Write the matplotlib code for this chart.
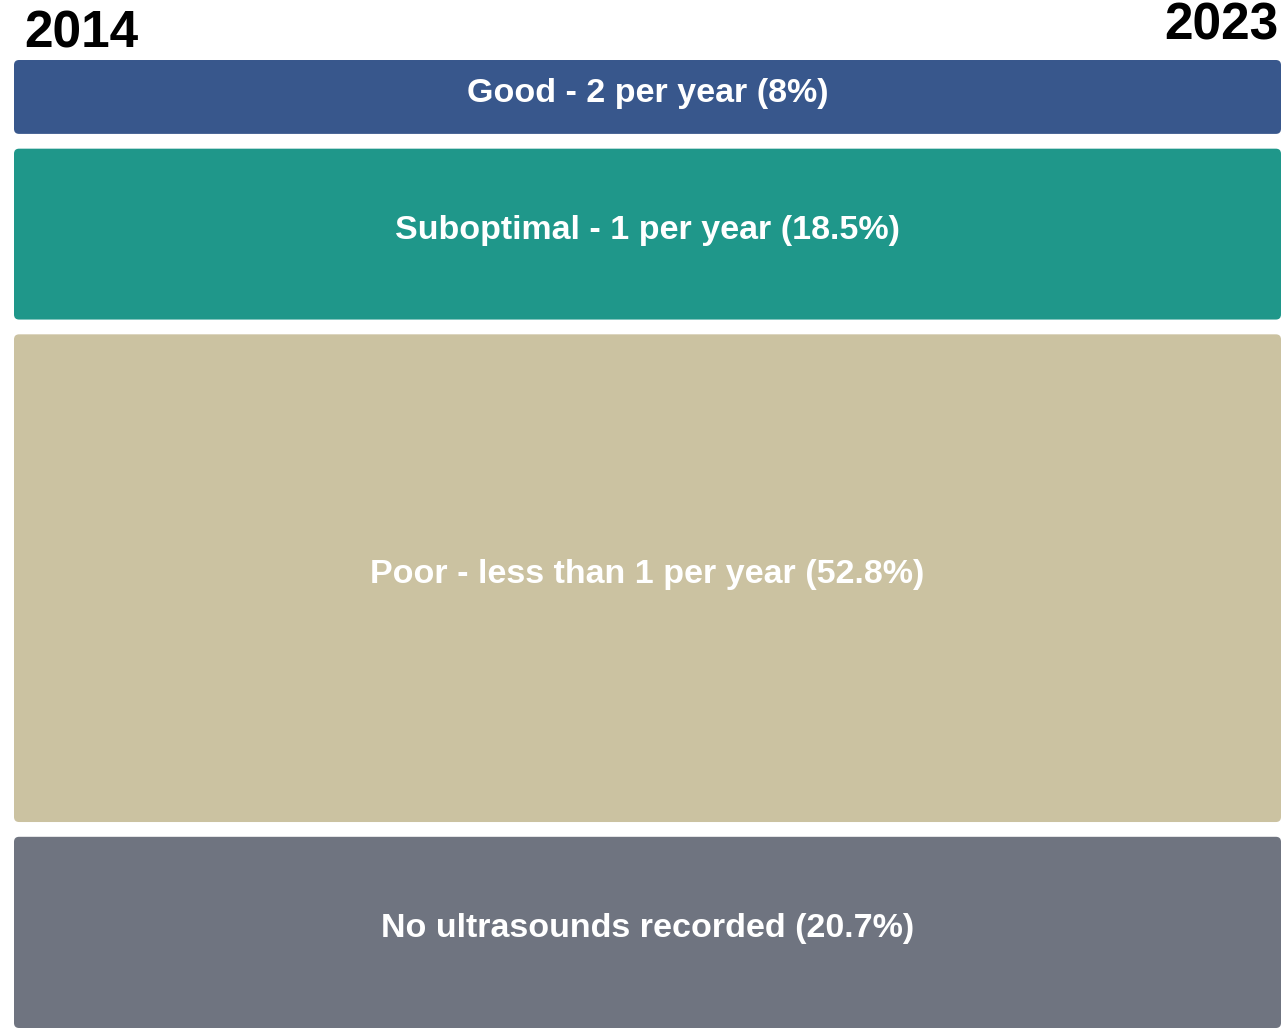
import matplotlib
matplotlib.use("Agg")
import matplotlib.pyplot as plt
from matplotlib.patches import FancyBboxPatch

plt.rcParams['font.family'] = ['Liberation Sans', 'DejaVu Sans']

categories = ["Good - 2 per year", "Suboptimal - 1 per year",
              "Poor - less than 1 per year", "No ultrasounds recorded"]
shares = [8.0, 18.5, 52.8, 20.7]
colors = ["#38578C", "#1F978A", "#CBC2A1", "#6F7480"]
start_year, end_year = "2014", "2023"

W, H = 1281, 1030
fig = plt.figure(figsize=(W / 100, H / 100), dpi=100)
ax = fig.add_axes([14 / W, 2 / H, 1 - 14 / W, (1028 - 60) / H])
gap = 1.6
total = sum(shares) + gap * (len(shares) - 1)
ax.set_xlim(0, 1)
ax.set_ylim(0, total)
ax.axis("off")

top = total
for cat, val, col in zip(categories, shares, colors):
    y0 = top - val
    patch = FancyBboxPatch((0, y0), 1, val,
                           boxstyle="round,pad=0,rounding_size=0.004",
                           mutation_aspect=total * (1267 / 968),
                           facecolor=col, edgecolor="none")
    ax.add_patch(patch)
    label = f"{cat} ({val:g}%)"
    ax.annotate(label, (0.5, y0 + val / 2), xytext=(0, 2.5),
                textcoords="offset points", ha="center", va="center",
                color="white", fontsize=24.5, fontweight="bold")
    top = y0 - gap

fig.text(24 / W, 1 - 34 / H, start_year, ha="left", va="center",
         fontsize=37, fontweight="bold", color="black")
fig.text(1279 / W, 1 - 26 / H, end_year, ha="right", va="center",
         fontsize=37, fontweight="bold", color="black")

fig.savefig("out.png", dpi=100)
